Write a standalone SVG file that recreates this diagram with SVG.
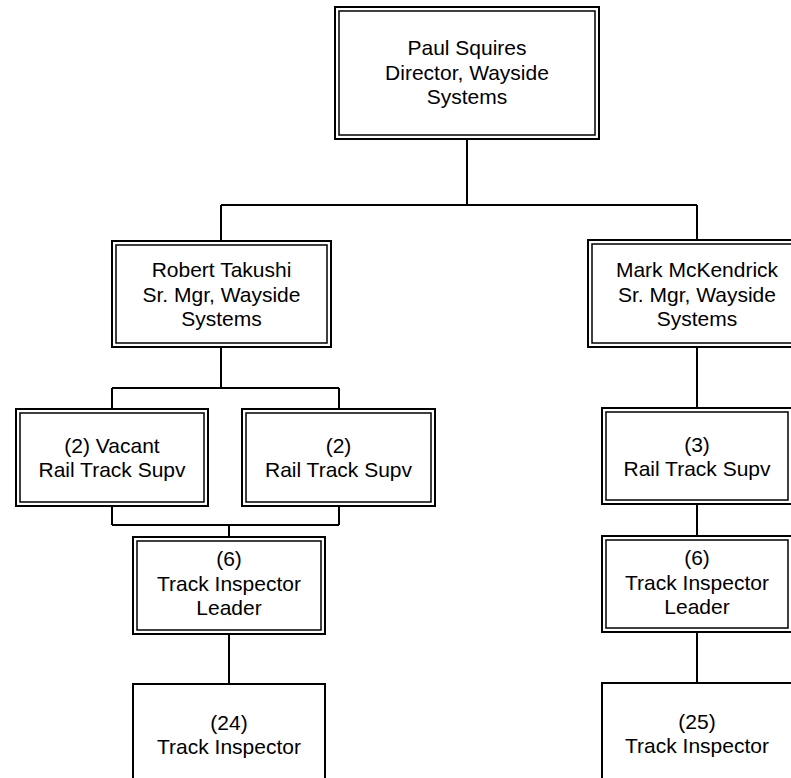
<svg xmlns="http://www.w3.org/2000/svg" width="791" height="778" viewBox="0 0 791 778">
<style>
.o{fill:#fff;stroke:#000;stroke-width:2}
.i{fill:none;stroke:#000;stroke-width:1.5}
.s{fill:#fff;stroke:#000;stroke-width:2}
.c{fill:none;stroke:#000;stroke-width:2}
text{font-family:"Liberation Sans",Arial,sans-serif;font-size:21px;fill:#000;text-anchor:middle}
</style>
<rect width="791" height="778" fill="#fff"/>
<g id="connectors">
<path class="c" d="M467,139V205M221,205H697M221,205V241M697,205V240"/>
<path class="c" d="M221,347V388M112,388H339M112,388V409M339,388V409"/>
<path class="c" d="M112,506V525M339,506V525M112,525H339M229,525V537"/>
<path class="c" d="M229,634V684"/>
<path class="c" d="M697,347V408M697,504V536M697,632V683"/>
</g>
<g id="paul">
<rect class="o" x="335" y="7" width="264" height="132"/>
<rect class="i" x="339" y="11" width="256" height="124"/>
<text x="467" y="55">Paul Squires</text>
<text x="467" y="79.5">Director, Wayside</text>
<text x="467" y="104">Systems</text>
</g>
<g id="robert">
<rect class="o" x="112" y="241" width="219" height="106"/>
<rect class="i" x="116" y="245" width="211" height="98"/>
<text x="221.5" y="277">Robert Takushi</text>
<text x="221.5" y="301.5">Sr. Mgr, Wayside</text>
<text x="221.5" y="326">Systems</text>
</g>
<g id="mark">
<rect class="o" x="588" y="240" width="218" height="107"/>
<rect class="i" x="592" y="244" width="210" height="99"/>
<text x="697" y="277">Mark McKendrick</text>
<text x="697" y="301.5">Sr. Mgr, Wayside</text>
<text x="697" y="326">Systems</text>
</g>
<g id="vacant">
<rect class="o" x="16" y="409" width="192" height="97"/>
<rect class="i" x="20" y="413" width="184" height="89"/>
<text x="112" y="453">(2) Vacant</text>
<text x="112" y="477">Rail Track Supv</text>
</g>
<g id="rail2">
<rect class="o" x="242" y="409" width="193" height="97"/>
<rect class="i" x="246" y="413" width="185" height="89"/>
<text x="338.5" y="453">(2)</text>
<text x="338.5" y="477">Rail Track Supv</text>
</g>
<g id="leader-left">
<rect class="o" x="133" y="537" width="192" height="97"/>
<rect class="i" x="137" y="541" width="184" height="89"/>
<text x="229" y="566">(6)</text>
<text x="229" y="590.5">Track Inspector</text>
<text x="229" y="615">Leader</text>
</g>
<g id="inspector-left">
<rect class="s" x="133" y="684" width="192" height="100"/>
<text x="229" y="730">(24)</text>
<text x="229" y="754">Track Inspector</text>
</g>
<g id="rail3">
<rect class="o" x="602" y="408" width="190" height="96"/>
<rect class="i" x="606" y="412" width="182" height="88"/>
<text x="697" y="452">(3)</text>
<text x="697" y="476">Rail Track Supv</text>
</g>
<g id="leader-right">
<rect class="o" x="602" y="536" width="190" height="96"/>
<rect class="i" x="606" y="540" width="182" height="88"/>
<text x="697" y="565">(6)</text>
<text x="697" y="589.5">Track Inspector</text>
<text x="697" y="614">Leader</text>
</g>
<g id="inspector-right">
<rect class="s" x="602" y="683" width="192" height="100"/>
<text x="697" y="729">(25)</text>
<text x="697" y="753">Track Inspector</text>
</g>
</svg>
